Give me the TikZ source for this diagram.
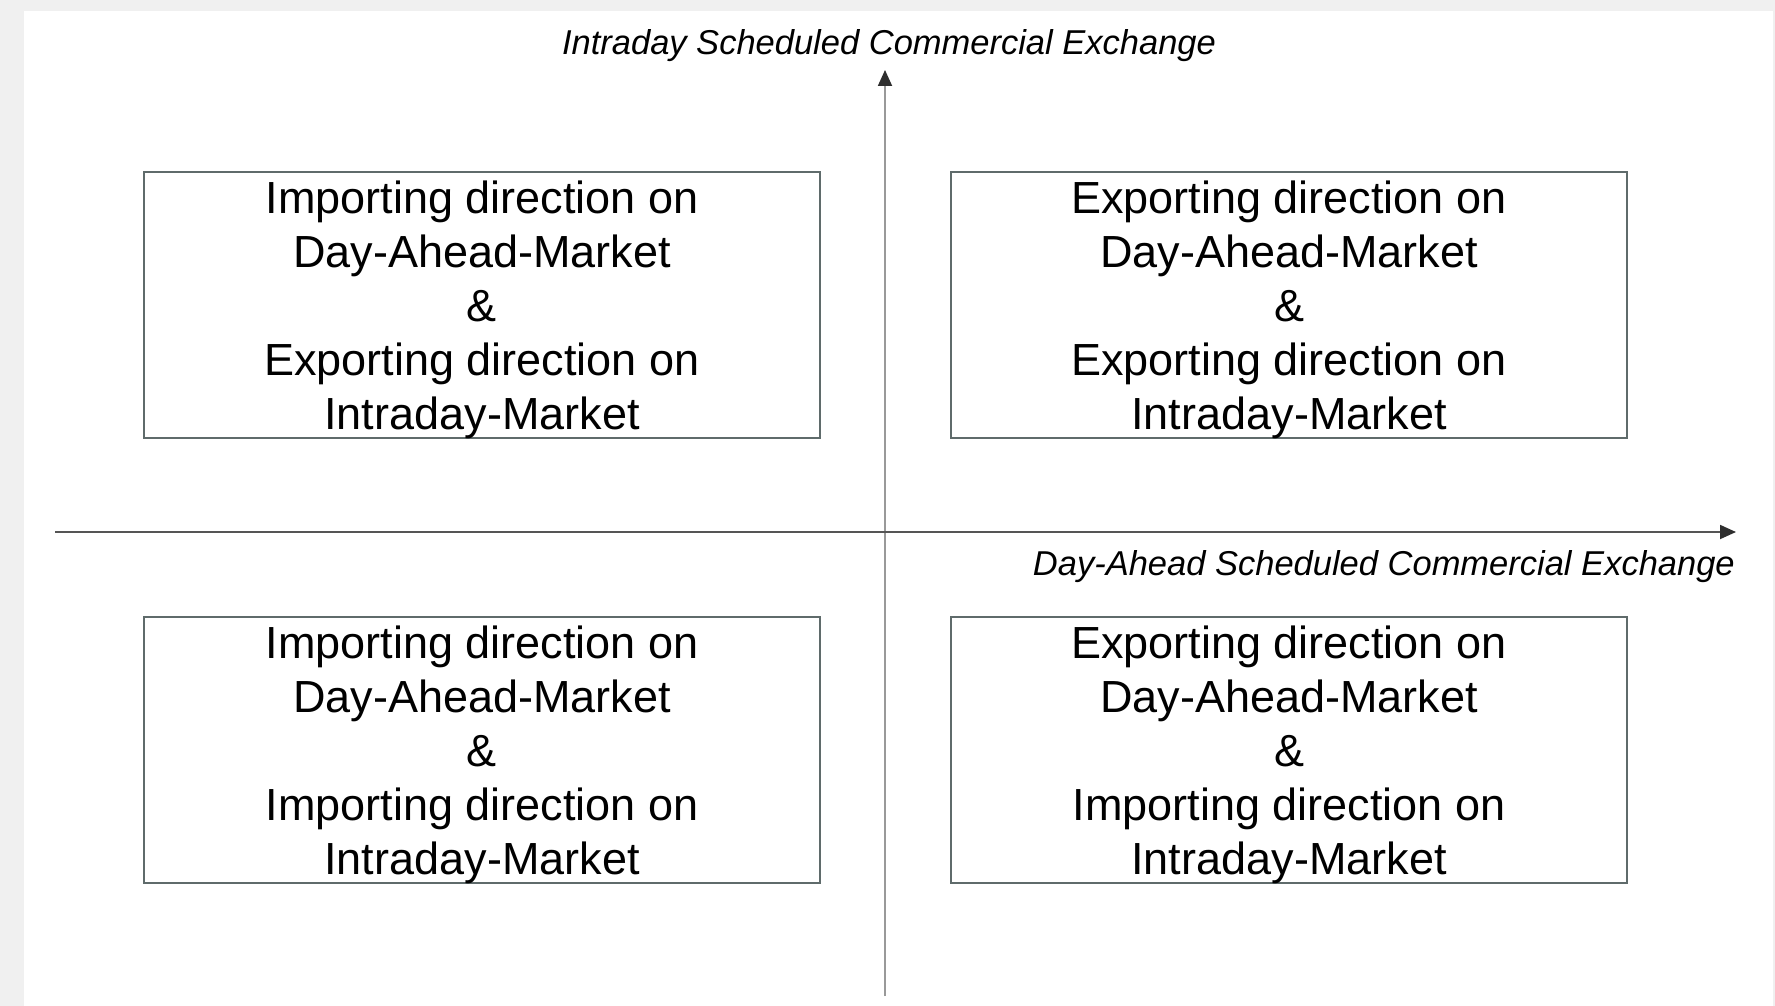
\documentclass[tikz,border=0pt]{standalone}
\usepackage{fontspec}
\setmainfont{Liberation Sans}
\usetikzlibrary{arrows.meta}
\definecolor{pagegray}{HTML}{F0F0F0}
\definecolor{boxgray}{HTML}{5F6B6B}
\definecolor{vaxis}{HTML}{999999}
\definecolor{haxis}{HTML}{555555}
\definecolor{tipgray}{HTML}{2E2E2E}
\begin{document}
\begin{tikzpicture}[x=1pt,y=-1pt,
  quad/.style={draw=boxgray, line width=1.2pt, rectangle, minimum width=676pt,
    minimum height=266pt, inner sep=0pt, align=center, text depth=0pt,
    font=\fontsize{45}{54}\selectfont},
  axislabel/.style={inner sep=0pt, font=\fontsize{34.5}{40}\selectfont\itshape},
  axistip/.style={-{Triangle[width=14pt,length=16pt,color=tipgray]}}]
% page
\fill[pagegray] (0,0) rectangle (1775,1006);
\fill[white] (24,11) rectangle (1773,1006);
\useasboundingbox (0,0) rectangle (1775,1006);
% axes
\coordinate (vbot) at (885,996);
\coordinate (vtop) at (885,70);
\coordinate (hleft) at (55,532);
\coordinate (hright) at (1736,532);
\draw[vaxis, line width=1.8pt, axistip] (vbot) -- (vtop);
\draw[haxis, line width=1.8pt, axistip] (hleft) -- (hright);
\node[axislabel] (idlabel) at (889,46){Intraday Scheduled Commercial Exchange};
\node[axislabel, anchor=east] (dalabel) at (1735,567){Day-Ahead Scheduled Commercial Exchange};
% quadrants
\node[quad] (ie) at (482,305){Importing direction on\\Day-Ahead-Market\\\&\\Exporting direction on\\Intraday-Market};
\node[quad] (ee) at (1289,305){Exporting direction on\\Day-Ahead-Market\\\&\\Exporting direction on\\Intraday-Market};
\node[quad] (ii) at (482,750){Importing direction on\\Day-Ahead-Market\\\&\\Importing direction on\\Intraday-Market};
\node[quad] (ei) at (1289,750){Exporting direction on\\Day-Ahead-Market\\\&\\Importing direction on\\Intraday-Market};
\end{tikzpicture}
\end{document}
